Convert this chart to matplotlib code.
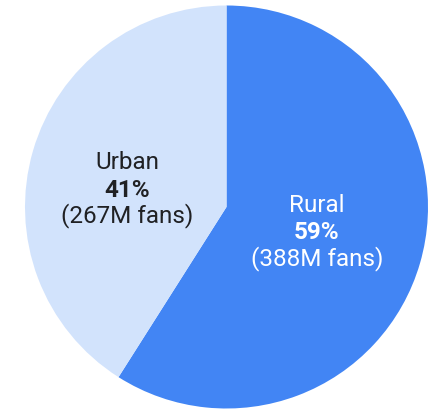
import matplotlib
matplotlib.use("Agg")
import matplotlib.pyplot as plt

plt.rcParams["font.family"] = ["Roboto", "DejaVu Sans"]

# fan base split
segments = ["Rural", "Urban"]
shares = [59, 41]
fans_m = [388, 267]
colors = ["#4285F4", "#D2E3FC"]
text_colors = ["white", "#202124"]

# label anchors (pie units) and line baselines
label_x = [0.449, -0.491]
label_y = [[-0.025, -0.159, -0.288], [0.189, 0.050, -0.079]]

fig = plt.figure(figsize=(4.30, 4.12), dpi=100)
cx, cy, r = 226.5 / 430, 205 / 412, 201.5
ax = fig.add_axes([cx - r / 430, cy - r / 412, 2 * r / 430, 2 * r / 412])

ax.pie(shares, colors=colors, startangle=90, counterclock=False,
       radius=1.0, center=(0, 0), frame=True,
       wedgeprops={"linewidth": 0})
ax.set_xlim(-1, 1)
ax.set_ylim(-1, 1)
ax.set_aspect("auto")
ax.axis("off")

fs = 17.5
for i, name in enumerate(segments):
    ys = label_y[i]
    ax.text(label_x[i], ys[0], name, ha="center", va="baseline",
            fontsize=fs, color=text_colors[i])
    ax.text(label_x[i], ys[1], f"{shares[i]}%", ha="center", va="baseline",
            fontsize=fs, fontweight="bold", color=text_colors[i])
    ax.text(label_x[i], ys[2], f"({fans_m[i]}M fans)", ha="center",
            va="baseline", fontsize=fs, color=text_colors[i])

fig.savefig("out.png", dpi=100)
